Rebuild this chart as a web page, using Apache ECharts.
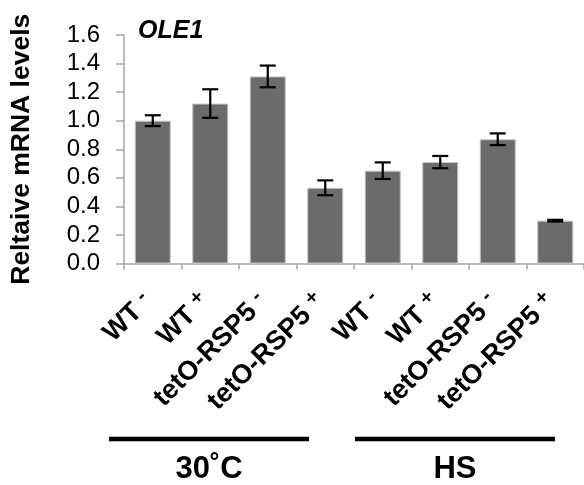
<!DOCTYPE html>
<html>
<head>
<meta charset="utf-8">
<script src="https://cdn.jsdelivr.net/npm/echarts@6/dist/echarts.min.js"></script>
<style>
html,body{margin:0;padding:0;background:#fff;}
#chart{width:584px;height:485px;}
</style>
</head>
<body>
<div id="chart"></div>
<script>
var categories = ['WT -', 'WT +', 'tetO-RSP5 -', 'tetO-RSP5 +', 'WT -', 'WT +', 'tetO-RSP5 -', 'tetO-RSP5 +'];
var values = [1.00, 1.12, 1.31, 0.53, 0.65, 0.71, 0.87, 0.30];
var errors = [0.038, 0.10, 0.076, 0.052, 0.058, 0.043, 0.041, 0.006];
var yTicks = [0.0, 0.2, 0.4, 0.6, 0.8, 1.0, 1.2, 1.4, 1.6];
var groups = ['30˚C', 'HS'];

var FONT = "'Liberation Sans', Arial, sans-serif";
var chart = echarts.init(document.getElementById('chart'));

var errData = values.map(function (v, i) { return [i, v - errors[i], v + errors[i]]; });

chart.setOption({
  animation: false,
  title: {
    text: 'OLE1', left: 138, top: 19, padding: 0,
    textStyle: { fontFamily: FONT, fontSize: 25, fontWeight: 'bold', fontStyle: 'italic', color: '#000' }
  },
  grid: { left: 122, top: 35, width: 464, height: 228.5, containLabel: false },
  xAxis: {
    type: 'category',
    data: categories,
    axisLine: { show: true, lineStyle: { color: '#a6a6a6', width: 1.5 } },
    axisTick: { show: true, length: 6, alignWithLabel: false, lineStyle: { color: '#a6a6a6', width: 1.5 } },
    axisLabel: {
      interval: 0, rotate: 45, margin: 35,
      padding: [0, 3, 8, 0],
      formatter: function (s) {
        var sign = s.slice(-1);
        var base = s.slice(0, -1);
        return '{a|' + base + '}{s|' + sign + '}';
      },
      rich: {
        a: { fontFamily: FONT, fontSize: 27, fontWeight: 'bold', color: '#000' },
        s: { fontFamily: FONT, fontSize: 20, fontWeight: 'bold', color: '#000', verticalAlign: 'bottom', padding: [0, 0, 11, 0] }
      }
    }
  },
  yAxis: {
    type: 'value', min: 0, max: 1.6, interval: 0.2,
    name: 'Reltaive mRNA levels', nameLocation: 'middle', nameRotate: 90, nameGap: 89,
    nameTextStyle: { fontFamily: FONT, fontSize: 26.5, fontWeight: 'bold', color: '#000' },
    axisLine: { show: true, lineStyle: { color: '#a6a6a6', width: 1.5 } },
    axisTick: { show: true, length: 8, lineStyle: { color: '#a6a6a6', width: 1.5 } },
    splitLine: { show: false },
    axisLabel: {
      margin: 24, fontFamily: FONT, fontSize: 24, color: '#000',
      formatter: function (v) { return v.toFixed(1); },
      customValues: yTicks
    }
  },
  series: [
    {
      type: 'bar', data: values, barWidth: 36,
      itemStyle: { color: '#6b6b6b', borderColor: '#c4c4c4', borderWidth: 1 }
    },
    {
      type: 'custom', data: errData, z: 10,
      renderItem: function (params, api) {
        var x = api.value(0);
        var lo = api.coord([x, api.value(1)]);
        var hi = api.coord([x, api.value(2)]);
        var hw = 8;
        var st = { stroke: '#000', lineWidth: 2.2 };
        return {
          type: 'group',
          children: [
            { type: 'line', shape: { x1: lo[0], y1: lo[1], x2: hi[0], y2: hi[1] }, style: st },
            { type: 'line', shape: { x1: lo[0] - hw, y1: lo[1], x2: lo[0] + hw, y2: lo[1] }, style: st },
            { type: 'line', shape: { x1: hi[0] - hw, y1: hi[1], x2: hi[0] + hw, y2: hi[1] }, style: st }
          ]
        };
      }
    }
  ],
  graphic: [
    { type: 'line', shape: { x1: 109, y1: 439, x2: 309, y2: 439 }, style: { stroke: '#000', lineWidth: 4.5 } },
    { type: 'line', shape: { x1: 355, y1: 439, x2: 555, y2: 439 }, style: { stroke: '#000', lineWidth: 4.5 } },
    { type: 'text', x: 209, y: 469, style: { text: groups[0], fontFamily: FONT, fontSize: 31, fontWeight: 'bold', fill: '#000', textAlign: 'center', textVerticalAlign: 'middle' } },
    { type: 'text', x: 455, y: 469, style: { text: groups[1], fontFamily: FONT, fontSize: 31, fontWeight: 'bold', fill: '#000', textAlign: 'center', textVerticalAlign: 'middle' } }
  ]
});
</script>
</body>
</html>
